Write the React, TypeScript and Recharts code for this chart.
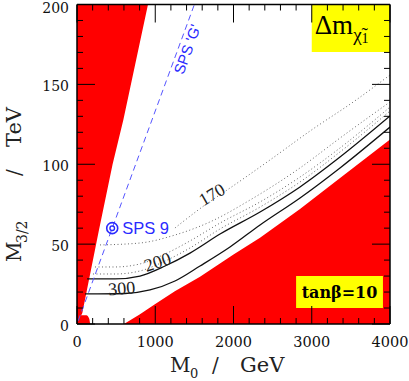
import React from 'react';
import { ComposedChart, XAxis, YAxis, Area, Line, Scatter, ReferenceArea } from 'recharts';

// ---------- axes ----------
const X_TICKS = [0, 200, 400, 600, 800, 1000, 1200, 1400, 1600, 1800, 2000, 2200, 2400, 2600, 2800, 3000, 3200, 3400, 3600, 3800, 4000];
const X_LABELS = [0, 1000, 2000, 3000, 4000];
const Y_TICKS = [0, 10, 20, 30, 40, 50, 60, 70, 80, 90, 100, 110, 120, 130, 140, 150, 160, 170, 180, 190, 200];
const Y_LABELS = [0, 50, 100, 150, 200];

// ---------- excluded (red) regions: [M0, lower M3/2, upper M3/2] ----------
const redLeftWedge: [number, number, number][] = [
  [0, 0, 200], [68, 6.9, 200], [275, 57.5, 200], [455, 100, 200], [592, 127.7, 200], [907, 200, 200],
];
const redLeftBlob: [number, number, number][] = [
  [0, 0, 5.5], [120, 0, 5.5], [155, 0, 3.5], [168, 0, 0],
];
const redRight: [number, number, number][] = [
  [600, 0, 0], [800, 0, 6], [1000, 0, 12.5], [1250, 0, 20.5], [1572, 0, 29.5], [2000, 0, 43.5],
  [2339, 0, 54], [2850, 0, 72], [3300, 0, 89], [4000, 0, 115.5],
];

// ---------- contours: [M0, M3/2] ----------
const c300: [number, number][] = [
  [102, 18.8], [613, 19.1], [933, 21.3], [1252, 26.9], [1572, 36.3], [1955, 48.2], [2339, 62.0], [2850, 78.9], [3361, 97.7], [4000, 123.3],
];
const c200: [number, number][] = [
  [128, 28.2], [486, 28.2], [805, 30.0], [1125, 36.3], [1444, 44.4], [1828, 56.3], [2339, 70.1], [2850, 85.8], [3361, 104.5], [4000, 130.2],
];
const c190: [number, number][] = [
  [204, 31.3], [486, 31.3], [805, 33.2], [1125, 39.4], [1444, 47.6], [1828, 59.5], [2339, 73.2], [2850, 88.9], [3361, 107.7], [4000, 133.3],
];
const c180: [number, number][] = [
  [230, 35.7], [486, 35.7], [805, 37.6], [1125, 43.8], [1444, 52.0], [1828, 63.2], [2339, 76.4], [2850, 92.0], [3361, 110.2], [4000, 135.8],
];
const c175: [number, number][] = [
  [294, 49.5], [805, 50.7], [1252, 55.7], [1700, 63.9], [2211, 77.6], [2850, 97.7], [3361, 116.4], [4000, 139.0],
];
const c170: [number, number][] = [
  [1252, 60.1], [1636, 74.5], [1955, 85.1], [2467, 102.7], [2978, 120.8], [3566, 140.2], [4000, 155.9],
];

// SPS 'G' slope line and SPS 9 point
const spsG: [number, number][] = [[15, 2], [1500, 200]];
const sps9: [number, number][] = [[450, 60]];

// labels placed in data coordinates: [M0, M3/2, text, angle]
const contourLabels: [number, number, string, number][] = [
  [1725, 81, '170', -30],
  [1029, 38.8, '200', -18],
  [571, 22.3, '300', -5],
];
const spsGLabel: [number, number, string, number][] = [[1406, 172, "SPS 'G'", -70]];

const range = (arr: [number, number, number][]) => arr.map(([x, lo, hi]) => ({ x, r: [lo, hi] }));
const pts = (arr: [number, number][]) => arr.map(([x, y]) => ({ x, y }));
const lbls = (arr: [number, number, string, number][]) => arr.map(([x, y, t, a]) => ({ x, y, t, a }));

const SERIF = "'DejaVu Serif', serif";
const TSERIF = "'Liberation Serif', 'Times New Roman', serif";
const SANS = "'Liberation Sans', Arial, sans-serif";
const BLUE = '#2a2aff';

const makeTick = (side: 'b' | 't' | 'l' | 'r') => (props: any) => {
  const { x, y, payload } = props;
  const v = payload.value;
  const isX = side === 'b' || side === 't';
  const major = isX ? X_LABELS.includes(v) : Y_LABELS.includes(v);
  const len = major ? 18 : 6;
  let line;
  if (side === 'b') line = <line x1={x} y1={y} x2={x} y2={y - len} stroke="#000" strokeWidth={1} />;
  else if (side === 't') line = <line x1={x} y1={y} x2={x} y2={y + len} stroke="#000" strokeWidth={1} />;
  else if (side === 'l') line = <line x1={x} y1={y} x2={x + len} y2={y} stroke="#000" strokeWidth={1} />;
  else line = <line x1={x} y1={y} x2={x - len} y2={y} stroke="#000" strokeWidth={1} />;
  let label = null;
  if (major && side === 'b') {
    label = <text x={x} y={y + 23} textAnchor="middle" fontFamily={SERIF} fontSize={14.5} fill="#111">{v}</text>;
  } else if (major && side === 'l') {
    const dy = v === 200 ? 8.5 : 6.5;
    label = <text x={x - 8} y={y + dy} textAnchor="end" fontFamily={SERIF} fontSize={14} fill="#111">{v}</text>;
  }
  return <g>{line}{label}</g>;
};

const ContourText = (props: any) => {
  const { cx, cy, payload } = props;
  return (
    <text x={cx} y={cy} transform={`rotate(${payload.a} ${cx} ${cy})`} textAnchor="middle" dominantBaseline="central"
      fontFamily={TSERIF} fontSize={18} fill="#222">{payload.t}</text>
  );
};
const SpsGText = (props: any) => {
  const { cx, cy, payload } = props;
  return (
    <text x={cx} y={cy} transform={`rotate(${payload.a} ${cx} ${cy})`} textAnchor="middle" dominantBaseline="central"
      fontFamily={SANS} fontSize={15} fill={BLUE}>{payload.t}</text>
  );
};
const Sps9Marker = (props: any) => {
  const { cx, cy } = props;
  return (
    <g>
      <circle cx={cx} cy={cy} r={5.5} fill="none" stroke={BLUE} strokeWidth={1.6} />
      <circle cx={cx} cy={cy} r={2.3} fill="none" stroke={BLUE} strokeWidth={1.4} />
      <text x={cx + 10} y={cy + 6} fontFamily={SANS} fontSize={16.5} fill={BLUE}>SPS 9</text>
    </g>
  );
};

const DeltaLabel = (props: any) => {
  const { x, y } = props.viewBox;
  return (
    <text x={x + 3} y={y + 29} fontFamily={TSERIF} fontSize={27} fill="#000">
      Δm<tspan fontSize={19} dy={7}>χ̃</tspan><tspan fontSize={14} dy={2}>1</tspan>
    </text>
  );
};
const TanbLabel = (props: any) => {
  const { x, y, width, height } = props.viewBox;
  return (
    <text x={x + width / 2} y={y + height / 2 + 6} textAnchor="middle" fontFamily={SERIF} fontWeight="bold" fontSize={16} fill="#000">
      tanβ=10
    </text>
  );
};

const AX = { stroke: '#000', strokeWidth: 1.5 };

export default function App() {
  return (
    <div style={{ position: 'absolute', left: 0, top: 0, width: 409, height: 381, background: '#fff' }}>
      <ComposedChart width={409} height={381} margin={{ top: 3.5, right: 18, bottom: 56, left: 76 }}>
        <Area xAxisId="b" yAxisId="l" data={range(redLeftWedge)} dataKey="r" type="linear" stroke="none" fill="#ff0000" fillOpacity={1} isAnimationActive={false} />
        <Area xAxisId="b" yAxisId="l" data={range(redLeftBlob)} dataKey="r" type="monotone" stroke="none" fill="#ff0000" fillOpacity={1} isAnimationActive={false} />
        <Area xAxisId="b" yAxisId="l" data={range(redRight)} dataKey="r" type="linear" stroke="none" fill="#ff0000" fillOpacity={1} isAnimationActive={false} />

        <Line xAxisId="b" yAxisId="l" data={pts(c170)} dataKey="y" type="monotone" stroke="#666" strokeWidth={1} strokeDasharray="1 2.5" dot={false} isAnimationActive={false} />
        <Line xAxisId="b" yAxisId="l" data={pts(c175)} dataKey="y" type="monotone" stroke="#666" strokeWidth={1} strokeDasharray="1 2.5" dot={false} isAnimationActive={false} />
        <Line xAxisId="b" yAxisId="l" data={pts(c180)} dataKey="y" type="monotone" stroke="#666" strokeWidth={1} strokeDasharray="1 2.5" dot={false} isAnimationActive={false} />
        <Line xAxisId="b" yAxisId="l" data={pts(c190)} dataKey="y" type="monotone" stroke="#666" strokeWidth={1} strokeDasharray="1 2.5" dot={false} isAnimationActive={false} />
        <Line xAxisId="b" yAxisId="l" data={pts(c200)} dataKey="y" type="monotone" stroke="#111" strokeWidth={1.3} dot={false} isAnimationActive={false} />
        <Line xAxisId="b" yAxisId="l" data={pts(c300)} dataKey="y" type="monotone" stroke="#111" strokeWidth={1.3} dot={false} isAnimationActive={false} />
        <Line xAxisId="b" yAxisId="l" data={pts(spsG)} dataKey="y" type="linear" stroke="#5555ff" strokeWidth={1} strokeDasharray="6 4" dot={false} isAnimationActive={false} />

        <ReferenceArea xAxisId="b" yAxisId="l" x1={3000} x2={4000} y1={170.3} y2={200} fill="#ffff00" fillOpacity={1} stroke="none" label={DeltaLabel} />
        <ReferenceArea xAxisId="b" yAxisId="l" x1={2800} x2={3910} y1={10} y2={30} fill="#ffff00" fillOpacity={1} stroke="none" label={TanbLabel} />

        <Scatter xAxisId="b" yAxisId="l" data={pts(sps9)} shape={Sps9Marker} isAnimationActive={false} />
        <Scatter xAxisId="b" yAxisId="l" data={lbls(contourLabels)} shape={ContourText} isAnimationActive={false} />
        <Scatter xAxisId="b" yAxisId="l" data={lbls(spsGLabel)} shape={SpsGText} isAnimationActive={false} />

        <XAxis xAxisId="b" dataKey="x" type="number" domain={[0, 4000]} ticks={X_TICKS} interval={0} orientation="bottom"
          height={1} tickSize={0} tickMargin={0} tickLine={false} axisLine={AX} tick={makeTick('b')} allowDataOverflow />
        <XAxis xAxisId="t" dataKey="x" type="number" domain={[0, 4000]} ticks={X_TICKS} interval={0} orientation="top"
          height={1} tickSize={0} tickMargin={0} tickLine={false} axisLine={AX} tick={makeTick('t')} allowDataOverflow />
        <YAxis yAxisId="l" dataKey="y" type="number" domain={[0, 200]} ticks={Y_TICKS} interval={0} orientation="left"
          width={1} tickSize={0} tickMargin={0} tickLine={false} axisLine={AX} tick={makeTick('l')} allowDataOverflow />
        <YAxis yAxisId="r" dataKey="y" type="number" domain={[0, 200]} ticks={Y_TICKS} interval={0} orientation="right"
          width={1} tickSize={0} tickMargin={0} tickLine={false} axisLine={AX} tick={makeTick('r')} allowDataOverflow />
      </ComposedChart>

      <svg width={409} height={381} style={{ position: 'absolute', left: 0, top: 0, pointerEvents: 'none' }}>
        <g fontFamily={SERIF} fill="#222">
          <text x={170} y={372} fontSize={20}>M</text>
          <text x={190} y={378} fontSize={13}>0</text>
          <text x={212} y={372} fontSize={20}>/</text>
          <text x={240} y={372} fontSize={21}>GeV</text>
          <g transform="rotate(-90)">
            <text x={-262} y={21} fontSize={20}>M</text>
            <text x={-243} y={27} fontSize={14}>3/2</text>
            <text x={-176} y={21} fontSize={20}>/</text>
            <text x={-147} y={21} fontSize={21}>TeV</text>
          </g>
        </g>
      </svg>
    </div>
  );
}
